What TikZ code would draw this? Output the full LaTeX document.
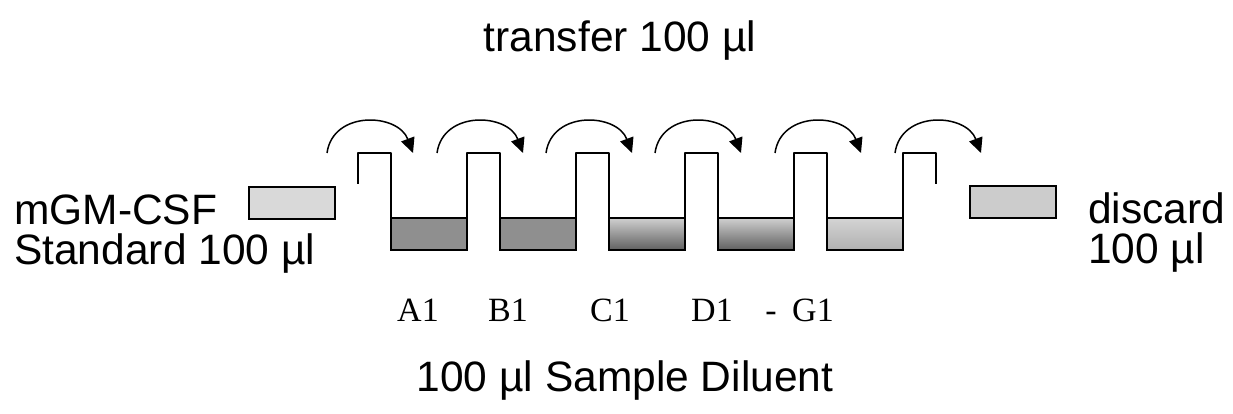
\documentclass[tikz,border=0pt]{standalone}
\usepackage{fontspec}
\setmainfont{Liberation Sans}
\newfontfamily\labelfont{Liberation Serif}
\usetikzlibrary{positioning, arrows.meta}
\definecolor{darkliq}{RGB}{143,143,143}
\definecolor{liqtop}{RGB}{208,208,208}
\definecolor{liqbot}{RGB}{96,96,96}
\definecolor{paletop}{RGB}{212,212,212}
\definecolor{palebot}{RGB}{176,176,176}
\definecolor{stdgray}{RGB}{217,217,217}
\definecolor{discgray}{RGB}{204,204,204}
\tikzstyle{tube} = [rectangle, minimum width = 86, minimum height = 32,
  draw = black, line width = 1.6, inner sep = 0, outer sep = 0]
\tikzstyle{liquid} = [
  rectangle,
  minimum width = 76, minimum height = 32,
  draw = black, line width = 1.6, inner sep = 0, outer sep = 0
]
\tikzstyle{wall} = [line width = 1.6, line join = round]
\tikzstyle{hop} = [line width = 1.5, -{Triangle[length = 15, width = 14]}]
\tikzstyle{txt} = [font = \fontsize{42.5}{40}\selectfont, inner sep = 0, align = left]
\tikzstyle{wlabel} = [font = \labelfont\fontsize{34}{40}\selectfont, inner sep = 0]

\begin{document}
\begin{tikzpicture}[x = 1pt, y = -1pt, node distance = 0]
      \useasboundingbox (0, 0) rectangle (1233, 414);

      \node [liquid, fill = darkliq] (liq-a1) at (429, 234) {};
      \node [liquid, fill = darkliq, right = 33 of liq-a1] (liq-b1) {};
      \node [liquid, top color = liqtop, bottom color = liqbot, right = 33 of liq-b1] (liq-c1) {};
      \node [liquid, top color = liqtop, bottom color = liqbot, right = 33 of liq-c1] (liq-d1) {};
      \node [liquid, top color = paletop, bottom color = palebot, right = 33 of liq-d1] (liq-g1) {};

      \coordinate (rim-l) at (358, 153);
      \coordinate (rim-r) at (936, 153);
      \draw [wall] (rim-l) ++(0, 31) -- (rim-l)
        foreach \w in {a1, b1, c1, d1, g1} {
          -| (liq-\w.south west) -- (liq-\w.south east) -- (liq-\w.south east |- rim-l)
        } -- (rim-r) -- ++(0, 31);

      \node [tube, fill = stdgray] (std-tube) at (292, 203) {};
      \node [tube, fill = discgray] (discard-tube) at (1013, 202) {};

      \foreach \x [count = \i] in {327, 437, 546, 655, 775, 895} {
        \coordinate (hop-s-\i) at (\x, 153);
        \coordinate (hop-e-\i) at (\x + 86, 153);
        \draw [hop] (hop-s-\i) .. controls +(6, -43) and +(-15, -40) .. (hop-e-\i);
      }

      \node [wlabel, anchor = base] (lab-a1) at (418, 321) {A1};
      \node [wlabel, anchor = base] (lab-b1) at (508, 321) {B1};
      \node [wlabel, anchor = base] (lab-c1) at (610, 321) {C1};
      \node [wlabel, anchor = base] (lab-d1) at (712, 321) {D1};
      \node [wlabel, anchor = base] (lab-dash) at (771, 321) {-};
      \node [wlabel, anchor = base] (lab-g1) at (813, 321) {G1};

      \node [txt, anchor = base west] (std-text) at (14, 264) {mGM-CSF\\Standard 100 µl};
      \node [txt, anchor = base west] (discard-text) at (1088, 263) {discard\\100 µl};
      \node [txt, anchor = base] (transfer) at (620, 52) {transfer 100 µl};
      \node [txt, anchor = base] (diluent) at (625, 391) {100 µl Sample Diluent};
    \end{tikzpicture}
\end{document}
